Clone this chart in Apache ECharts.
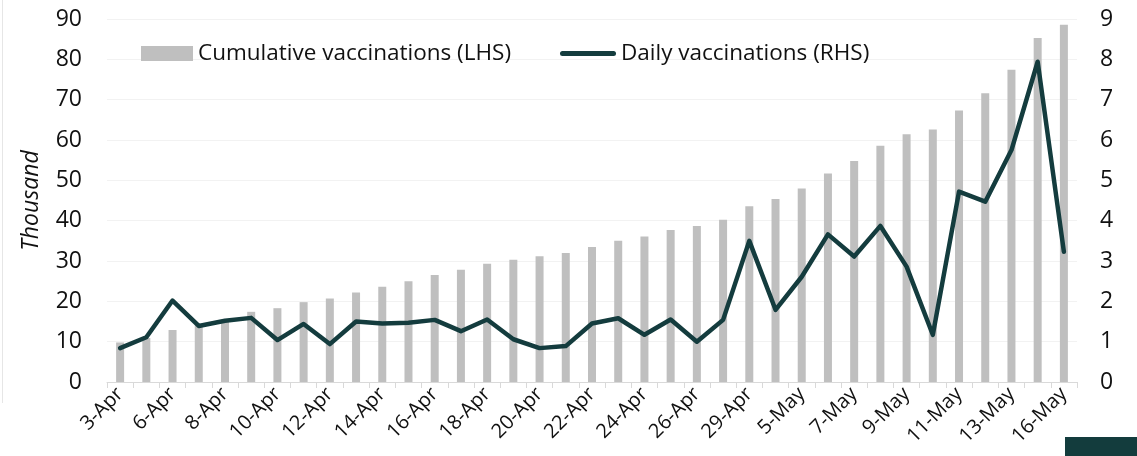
<!DOCTYPE html>
<html>
<head>
<meta charset="utf-8">
<script src="https://cdn.jsdelivr.net/npm/echarts@6/dist/echarts.min.js"></script>
<style>
  html, body { margin: 0; padding: 0; background: #fff; }
  #chart { width: 1137px; height: 456px; }
</style>
</head>
<body>
<div id="chart"></div>
<script>
// categories (every other one is labelled on the axis)
var dates = [
  "3-Apr", "5-Apr", "6-Apr", "7-Apr", "8-Apr", "9-Apr", "10-Apr", "11-Apr", "12-Apr", "13-Apr",
  "14-Apr", "15-Apr", "16-Apr", "17-Apr", "18-Apr", "19-Apr", "20-Apr", "21-Apr", "22-Apr", "23-Apr",
  "24-Apr", "25-Apr", "26-Apr", "27-Apr", "29-Apr", "4-May", "5-May", "6-May", "7-May", "8-May",
  "9-May", "10-May", "11-May", "12-May", "13-May", "14-May", "16-May"
];
// cumulative vaccinations, thousand (LHS)
var cumulative = [
  9.8, 10.9, 12.9, 14.1, 15.0, 17.4, 18.3, 19.8, 20.7, 22.2,
  23.6, 25.0, 26.5, 27.8, 29.3, 30.3, 31.2, 32.0, 33.5, 35.0,
  36.1, 37.7, 38.7, 40.2, 43.6, 45.4, 48.0, 51.7, 54.8, 58.6,
  61.4, 62.6, 67.3, 71.6, 77.4, 85.3, 88.6
];
// daily vaccinations, thousand (RHS)
var daily = [
  0.84, 1.11, 2.02, 1.39, 1.52, 1.59, 1.04, 1.44, 0.94, 1.50,
  1.45, 1.47, 1.54, 1.26, 1.55, 1.06, 0.84, 0.89, 1.45, 1.58,
  1.17, 1.55, 1.00, 1.54, 3.50, 1.79, 2.61, 3.66, 3.11, 3.87,
  2.86, 1.17, 4.72, 4.47, 5.75, 7.94, 3.23
];

var font = "'Open Sans', 'Noto Sans', sans-serif";
var lineColor = "#143c3e";
var chart = echarts.init(document.getElementById("chart"));
chart.setOption({
  animation: false,
  textStyle: { fontFamily: font },
  grid: { left: 107, right: 60, top: 19, bottom: 74 },
  // two legends so each can have its own icon size
  legend: [
    {
      left: 136,
      top: 37,
      itemWidth: 52,
      itemHeight: 15,
      icon: "rect",
      textStyle: { fontSize: 22.5, color: "#111", fontFamily: font },
      data: ["Cumulative vaccinations (LHS)"]
    },
    {
      left: 555,
      top: 37,
      itemWidth: 56,
      itemHeight: 5,
      icon: "path://M2.5,0 L53.5,0 A2.5,2.5 0 0 1 53.5,5 L2.5,5 A2.5,2.5 0 0 1 2.5,0 Z",
      itemStyle: { color: lineColor },
      textStyle: { fontSize: 22.5, color: "#111", fontFamily: font },
      data: ["Daily vaccinations (RHS)"]
    }
  ],
  xAxis: {
    type: "category",
    data: dates,
    axisLine: { lineStyle: { color: "#d9d9d9", width: 1 } },
    axisTick: { show: true, interval: 0, length: 6, lineStyle: { color: "#d9d9d9" } },
    axisLabel: { interval: 1, rotate: 45, fontSize: 20, color: "#111", margin: 9, fontFamily: font }
  },
  yAxis: [
    {
      type: "value",
      min: 0, max: 90, interval: 10,
      name: "Thousand",
      nameLocation: "middle",
      nameGap: 64,
      nameTextStyle: { fontSize: 23, fontStyle: "italic", color: "#111", fontFamily: font },
      axisLabel: { fontSize: 23, color: "#111", margin: 25, fontFamily: font },
      splitLine: { lineStyle: { color: "#f2f2f2", width: 1 } },
      axisLine: { show: false },
      axisTick: { show: false }
    },
    {
      type: "value",
      min: 0, max: 9, interval: 1,
      axisLabel: { fontSize: 23, color: "#111", margin: 23, fontFamily: font },
      splitLine: { show: false },
      axisLine: { show: false },
      axisTick: { show: false }
    }
  ],
  series: [
    {
      name: "Cumulative vaccinations (LHS)",
      type: "bar",
      data: cumulative,
      barWidth: 8,
      itemStyle: { color: "#bfbfbf" }
    },
    {
      name: "Daily vaccinations (RHS)",
      type: "line",
      yAxisIndex: 1,
      data: daily,
      symbol: "none",
      lineStyle: { color: lineColor, width: 4.5, cap: "round", join: "round" },
      itemStyle: { color: lineColor }
    }
  ],
  graphic: [
    { type: "rect", left: 1065, top: 437, shape: { width: 72, height: 19 }, style: { fill: "#133c3d" } },
    { type: "line", shape: { x1: 2.5, y1: 0, x2: 2.5, y2: 403 }, style: { stroke: "#e6e6e6", lineWidth: 1 } }
  ]
});
</script>
</body>
</html>
